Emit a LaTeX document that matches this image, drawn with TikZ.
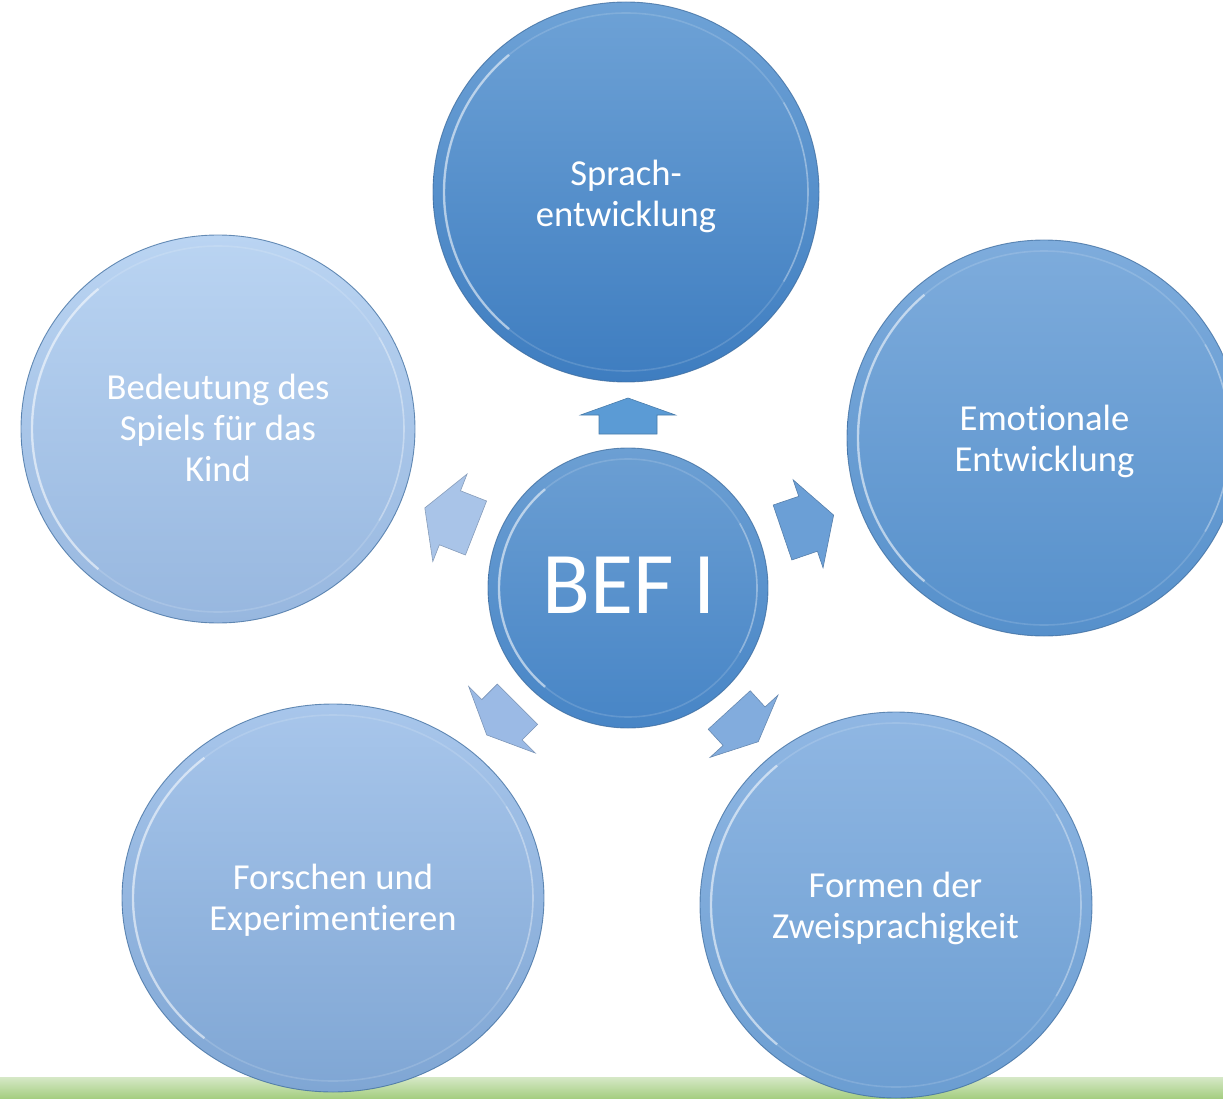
\documentclass[tikz,border=0pt]{standalone}
\usepackage{fontspec}
\setmainfont{Carlito}[Ligatures={NoCommon}]
\usetikzlibrary{shapes.geometric}
\definecolor{rimdark}{HTML}{3D6C9E}
\definecolor{greentop}{HTML}{D6E8C7}
\definecolor{greenbot}{HTML}{A3CD7E}
\definecolor{arrtop}{RGB}{91,155,213}
\definecolor{arrright}{RGB}{107,159,214}
\definecolor{arrleft}{RGB}{169,196,232}
\definecolor{arrbl}{RGB}{155,186,229}
\definecolor{arrbr}{RGB}{130,172,221}
\definecolor{sprachtop}{RGB}{110,162,214}
\definecolor{sprachbot}{RGB}{62,125,192}
\definecolor{spieltop}{RGB}{186,212,242}
\definecolor{spielbot}{RGB}{151,183,223}
\definecolor{emotop}{RGB}{126,172,220}
\definecolor{emobot}{RGB}{86,144,203}
\definecolor{forschtop}{RGB}{168,198,235}
\definecolor{forschbot}{RGB}{127,166,212}
\definecolor{zweitop}{RGB}{144,183,227}
\definecolor{zweibot}{RGB}{107,157,209}
\definecolor{beftop}{RGB}{108,159,211}
\definecolor{befbot}{RGB}{71,133,198}
\tikzset{
  bubble/.style={ellipse, inner sep=0pt, outer sep=0pt, draw=rimdark, draw opacity=0.75, line width=0.9pt},
  bubbletext/.style={text=white, align=center, font=\fontsize{36.6}{41}\selectfont, inner sep=0pt},
  arrowshape/.style={line width=0.6pt, line join=miter},
}
% block arrow: x, y (back middle), angle, body length, head length, body width, head width, colour
\newcommand{\blockarrowshape}[8]{%
  \begin{scope}[shift={(#1,#2)}, rotate=#3]
    \filldraw[arrowshape, fill=#8, draw=#8!80!black]
      (0,{-#6/2}) -- (#4,{-#6/2}) -- (#4,{-#7/2}) -- ({#4+#5},0) -- (#4,{#7/2}) -- (#4,{#6/2}) -- (0,{#6/2}) -- cycle;
  \end{scope}}
% rim highlight for a bubble
\newcommand{\bubblerim}[3]{%
  \draw[white, opacity=0.14, line width=1.6pt] (#1.center) ellipse [x radius=#2-11, y radius=#3-11];
  \draw[white, opacity=0.5, line width=2.4pt] ([shift={(130:{#2-11} and {#3-11})}]#1.center) arc[start angle=130, end angle=230, x radius=#2-11, y radius=#3-11];
  \draw[white, opacity=0.25, line width=1.6pt] ([shift={(-30:{#2-11} and {#3-11})}]#1.center) arc[start angle=-30, end angle=30, x radius=#2-11, y radius=#3-11];
}
\begin{document}
\begin{tikzpicture}[x=1pt, y=-1pt]
  \useasboundingbox (0,0) rectangle (1223,1099);
  % green bar at the bottom
  \shade[top color=greentop, bottom color=greenbot] (0,1077) rectangle (1223,1099);

  % outer bubbles
  \node[bubble, minimum width=386pt, minimum height=380pt, top color=sprachtop, bottom color=sprachbot] (sprach) at (626,192) {};
  \bubblerim{sprach}{193}{190}
  \node[bubble, minimum width=394pt, minimum height=388pt, top color=spieltop, bottom color=spielbot] (spiel) at (218,429) {};
  \bubblerim{spiel}{197}{194}
  \node[bubble, minimum width=394pt, minimum height=396pt, top color=emotop, bottom color=emobot] (emo) at (1044,438) {};
  \bubblerim{emo}{197}{198}
  \node[bubble, minimum width=422pt, minimum height=388pt, top color=forschtop, bottom color=forschbot] (forsch) at (333,898) {};
  \bubblerim{forsch}{211}{194}
  \node[bubble, minimum width=392pt, minimum height=386pt, top color=zweitop, bottom color=zweibot] (zwei) at (896,905) {};
  \bubblerim{zwei}{196}{193}

  % centre bubble
  \node[bubble, minimum width=280pt, minimum height=280pt, top color=beftop, bottom color=befbot] (bef) at (628,588) {};
  \bubblerim{bef}{140}{140}

  % block arrows from the centre outwards
  \blockarrowshape{628}{434}{90}{19}{17}{58}{95}{arrtop}
  \blockarrowshape{782.5}{532.5}{18.8}{27}{27}{58}{93}{arrright}
  \blockarrowshape{476}{528}{158.6}{28}{27}{58}{94}{arrleft}
  \blockarrowshape{517.5}{704.2}{-135}{22}{21.5}{57}{94}{arrbl}
  \blockarrowshape{729.2}{710}{-47.5}{22}{21}{57}{92}{arrbr}

  % texts
  \node[bubbletext] (sprachtext) at (626,196.5) {Sprach-\\entwicklung};
  \node[bubbletext] (spieltext) at (218,427.5) {Bedeutung des\\Spiels für das\\Kind};
  \node[bubbletext] (emotext) at (1044.5,441.5) {Emotionale\\Entwicklung};
  \node[bubbletext] (forschtext) at (333,900.5) {Forschen und\\Experimentieren};
  \node[bubbletext] (zweitext) at (895.5,908.5) {Formen der\\Zweisprachigkeit};
  \node[text=white, inner sep=0pt, anchor=base, font=\fontsize{88}{100}\selectfont] (beftext) at (629,613) {BEF I};
\end{tikzpicture}
\end{document}
